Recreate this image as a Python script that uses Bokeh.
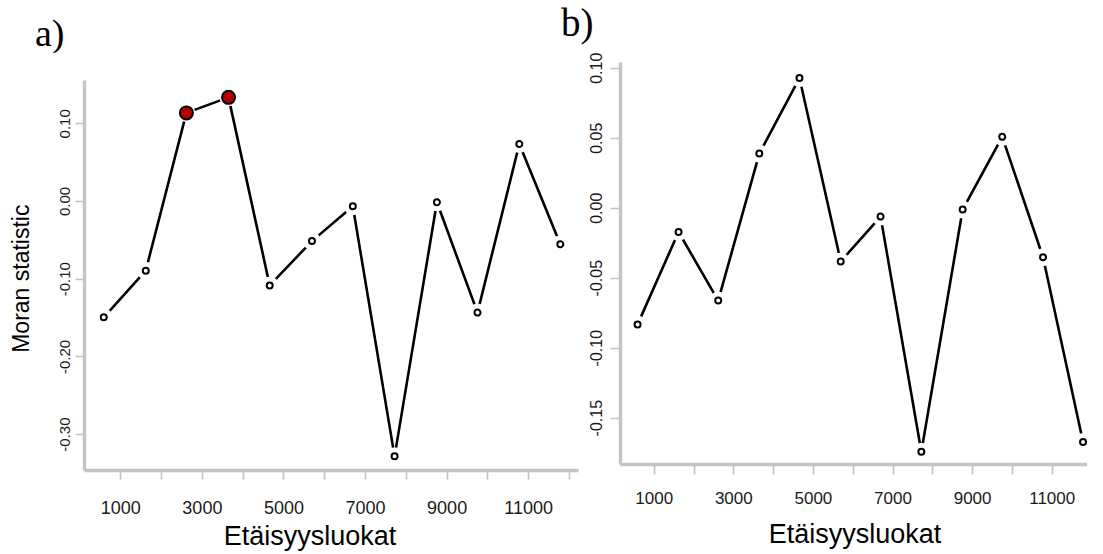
from bokeh.plotting import figure
from bokeh.layouts import row, column
from bokeh.models import FixedTicker, Range1d, Div
from bokeh.embed import file_html
from bokeh.resources import INLINE

# ---------------- data ----------------
distance_classes = [582, 1612, 2608, 3641, 4650, 5686, 6688, 7712, 8750, 9745, 10770, 11775]
moran_a = [-0.149, -0.089, 0.114, 0.134, -0.108, -0.051, -0.006, -0.328, -0.001, -0.143, 0.074, -0.055]
significant_a = [False, False, True, True, False, False, False, False, False, False, False, False]
moran_b = [-0.083, -0.017, -0.066, 0.039, 0.093, -0.038, -0.006, -0.174, -0.001, 0.051, -0.035, -0.167]

x_ticks = [1000, 2000, 3000, 4000, 5000, 6000, 7000, 8000, 9000, 10000, 11000, 12000]
x_tick_labels = ["1000", "", "3000", "", "5000", "", "7000", "", "9000", "", "11000", ""]
y_ticks_a = [0.10, 0.00, -0.10, -0.20, -0.30]
y_tick_labels_a = ["0.10", "0.00", "-0.10", "-0.20", "-0.30"]
y_ticks_b = [0.10, 0.05, 0.00, -0.05, -0.10, -0.15]
y_tick_labels_b = ["0.10", "0.05", "0.00", "-0.05", "-0.10", "-0.15"]
x_title = "Etäisyysluokat"
y_title = "Moran  statistic"
panel_labels = ["a)", "b)"]

AXIS_GRAY = "#c4c4c4"
SANS = "Liberation Sans"
FIG_H = 470


def make_panel(width, xr, yr, borders, yticks, ylabels, xfs, yfs, xstand, ystand, xtick_out, ytick_out):
    p = figure(width=width, height=FIG_H, output_backend="svg", toolbar_location=None,
               x_range=Range1d(*xr), y_range=Range1d(*yr),
               min_border_left=borders[0], min_border_right=borders[1],
               min_border_top=borders[2], min_border_bottom=borders[3])
    p.outline_line_color = None
    p.xgrid.visible = False
    p.ygrid.visible = False
    p.background_fill_color = "white"
    p.border_fill_color = "white"

    for ax in (p.xaxis, p.yaxis):
        ax.axis_line_color = AXIS_GRAY
        ax.axis_line_width = 3.4
        ax.major_tick_line_color = AXIS_GRAY
        ax.major_tick_line_width = 1.7
        ax.major_tick_in = 0
        ax.minor_tick_line_color = None
        ax.major_label_text_font = SANS
        ax.major_label_text_color = "#1a1a1a"
        ax.axis_label_text_font = SANS
        ax.axis_label_text_font_style = "normal"
        ax.axis_label_text_color = "black"

    p.xaxis.ticker = FixedTicker(ticks=x_ticks)
    p.xaxis.major_label_overrides = dict(zip(x_ticks, x_tick_labels))
    p.xaxis.major_label_text_font_size = xfs
    p.xaxis.major_label_standoff = xstand
    p.xaxis.major_tick_out = xtick_out

    p.yaxis.ticker = FixedTicker(ticks=yticks)
    p.yaxis.major_label_overrides = dict(zip(yticks, ylabels))
    p.yaxis.major_label_text_font_size = yfs
    p.yaxis.major_label_orientation = "vertical"
    p.yaxis.major_label_standoff = ystand
    p.yaxis.major_tick_out = ytick_out
    return p


def draw_series(p, xs, ys):
    p.line(xs, ys, line_color="black", line_width=2.6)
    p.scatter(xs, ys, size=18, fill_color="white", line_color=None)
    p.scatter(xs, ys, size=6, fill_color="white", line_color="black", line_width=2)


# ---------------- panel a ----------------
pa = make_panel(584, (110, 12221), (-0.3462, 0.1557), (84, 6, 28, 52),
                y_ticks_a, y_tick_labels_a, "18px", "15px", 21, 5, 9, 9)
draw_series(pa, distance_classes, moran_a)
sig_x = [x for x, s in zip(distance_classes, significant_a) if s]
sig_y = [y for y, s in zip(moran_a, significant_a) if s]
pa.scatter(sig_x, sig_y, size=13, fill_color="#b30000", line_color="black", line_width=2)
pa.yaxis.axis_label = y_title
pa.yaxis.axis_label_text_font_size = "23px"
pa.yaxis.axis_label_standoff = 24

# ---------------- panel b ----------------
pb = make_panel(503, (153, 11887), (-0.1831, 0.1041), (36, 0, 10, 58),
                y_ticks_b, y_tick_labels_b, "17px", "16px", 17, 8, 10, 10)
draw_series(pb, distance_classes, moran_b)

# ---------------- panel letters (top) ----------------
letters_html = (
    '<div style="position:relative;width:1087px;height:42px;'
    'font-family:\'Liberation Serif\',serif;color:#000;">'
    f'<span style="position:absolute;left:30px;top:9px;font-size:38px;line-height:38px;">{panel_labels[0]}</span>'
    f'<span style="position:absolute;left:556px;top:-2px;font-size:39px;line-height:39px;">{panel_labels[1]}</span>'
    '</div>'
)
letters = Div(text=letters_html, width=1087, height=42)

# ---------------- x-axis titles (bottom) ----------------
titles_html = (
    '<div style="position:relative;width:1087px;height:26px;'
    'font-family:\'Liberation Sans\',sans-serif;color:#000;">'
    f'<span style="position:absolute;left:155px;width:300px;text-align:center;top:-4px;'
    f'font-size:27px;line-height:27px;white-space:nowrap;">{x_title}</span>'
    f'<span style="position:absolute;left:700px;width:300px;text-align:center;top:-6px;'
    f'font-size:27px;line-height:27px;white-space:nowrap;">{x_title}</span>'
    '</div>'
)
titles = Div(text=titles_html, width=1087, height=26)

layout = column(letters, row(column(pa), column(pb)), titles)
open("out.html", "w").write(file_html(layout, INLINE))
